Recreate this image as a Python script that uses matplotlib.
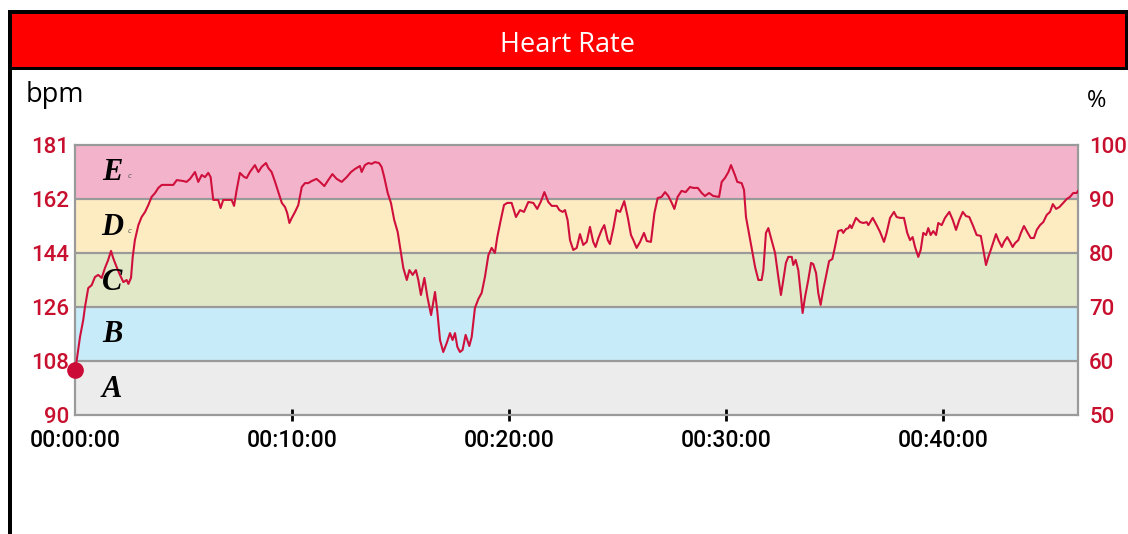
import matplotlib
matplotlib.use('Agg')
import matplotlib.pyplot as plt
from matplotlib.patches import Rectangle

# heart rate trace (time in minutes, bpm)
minutes = [0.00, 0.08, 0.23, 0.38, 0.46, 0.61, 0.77, 0.92, 1.07, 1.23, 1.38, 1.53, 1.66, 1.76, 1.92,
           2.07, 2.23, 2.38, 2.46, 2.58, 2.66, 2.76, 2.92, 3.07, 3.23, 3.38, 3.53, 3.69, 3.84, 4.00,
           4.53, 4.69, 4.99, 5.14, 5.30, 5.53, 5.68, 5.84, 5.99, 6.14, 6.25, 6.37, 6.60, 6.71, 6.83,
           7.22, 7.33, 7.45, 7.60, 7.80, 7.91, 8.06, 8.29, 8.45, 8.60, 8.80, 8.91, 9.06, 9.22, 9.37,
           9.53, 9.68, 9.78, 9.88, 9.99, 10.14, 10.29, 10.45, 10.60, 10.75, 10.91, 11.13, 11.29, 11.49,
           11.67, 11.86, 12.06, 12.29, 12.52, 12.72, 12.90, 13.13, 13.21, 13.36, 13.52, 13.67, 13.82,
           14.01, 14.13, 14.25, 14.41, 14.56, 14.71, 14.87, 14.98, 15.13, 15.29, 15.41, 15.56, 15.71,
           15.82, 15.94, 16.10, 16.24, 16.41, 16.59, 16.70, 16.82, 16.97, 17.13, 17.28, 17.40, 17.51,
           17.62, 17.74, 17.86, 18.00, 18.17, 18.28, 18.43, 18.59, 18.74, 18.89, 19.05, 19.20, 19.35,
           19.46, 19.62, 19.77, 19.92, 20.12, 20.32, 20.51, 20.69, 20.89, 21.12, 21.30, 21.46, 21.63,
           21.81, 21.97, 22.20, 22.32, 22.47, 22.58, 22.70, 22.81, 22.96, 23.12, 23.27, 23.42, 23.58,
           23.73, 23.88, 23.99, 24.12, 24.27, 24.39, 24.55, 24.65, 24.81, 24.96, 25.12, 25.31, 25.47,
           25.62, 25.73, 25.88, 26.04, 26.22, 26.35, 26.54, 26.70, 26.85, 27.03, 27.19, 27.34, 27.50,
           27.62, 27.77, 27.95, 28.14, 28.34, 28.49, 28.70, 28.88, 29.03, 29.22, 29.41, 29.68, 29.80,
           29.95, 30.11, 30.23, 30.41, 30.52, 30.72, 30.83, 30.92, 31.03, 31.18, 31.34, 31.49, 31.64,
           31.72, 31.84, 31.95, 32.10, 32.26, 32.41, 32.53, 32.64, 32.76, 32.87, 33.03, 33.10, 33.21,
           33.33, 33.44, 33.53, 33.64, 33.79, 33.92, 34.02, 34.15, 34.25, 34.36, 34.48, 34.64, 34.75,
           34.90, 35.02, 35.17, 35.33, 35.40, 35.53, 35.64, 35.71, 35.79, 35.99, 36.18, 36.33, 36.48,
           36.56, 36.76, 36.94, 37.10, 37.28, 37.40, 37.56, 37.74, 37.86, 38.02, 38.20, 38.35, 38.48,
           38.60, 38.71, 38.86, 38.97, 39.09, 39.22, 39.32, 39.43, 39.55, 39.68, 39.78, 39.94, 40.09,
           40.29, 40.45, 40.60, 40.75, 40.91, 41.06, 41.21, 41.37, 41.55, 41.74, 41.86, 41.98, 42.09,
           42.20, 42.32, 42.44, 42.55, 42.71, 42.81, 42.96, 43.09, 43.21, 43.32, 43.47, 43.59, 43.73,
           43.88, 44.04, 44.19, 44.32, 44.47, 44.62, 44.78, 44.93, 45.06, 45.21, 45.36, 45.54, 45.70,
           45.85, 46.00, 46.16, 46.22]
bpm = [105.0, 108.3, 116.0, 121.7, 126.0, 132.3, 133.3, 136.0, 136.7, 135.7, 139.0, 141.7, 144.7, 142.3, 139.3,
       136.7, 134.3, 135.0, 133.7, 135.7, 142.7, 148.3, 153.3, 156.0, 157.7, 160.0, 162.7, 164.0, 165.7, 166.7,
       166.7, 168.3, 168.0, 167.7, 168.7, 171.0, 167.7, 170.0, 169.3, 170.7, 169.3, 161.7, 161.7, 159.0, 161.7,
       161.7, 159.7, 165.0, 170.7, 169.3, 169.0, 171.0, 173.3, 171.0, 172.7, 174.0, 172.3, 171.0, 167.7, 164.3,
       160.7, 159.3, 157.3, 154.0, 155.7, 157.7, 160.0, 166.0, 167.3, 167.3, 168.0, 168.7, 167.7, 166.3,
       168.3, 170.3, 168.7, 167.7, 169.3, 171.0, 172.0, 173.0, 171.0, 173.3, 174.0, 173.7, 174.3,
       174.0, 172.7, 169.3, 164.0, 160.7, 155.0, 151.0, 146.0, 139.0, 135.0, 138.3, 136.7, 138.3,
       135.0, 130.0, 135.7, 129.3, 123.3, 131.0, 124.3, 115.0, 111.0, 114.0, 117.3, 115.0, 117.3,
       112.7, 111.0, 111.7, 116.7, 113.0, 116.0, 125.7, 128.7, 130.7, 136.0, 143.3, 145.7, 144.0,
       149.3, 155.0, 160.0, 160.7, 160.7, 156.0, 158.3, 157.7, 161.0, 160.7, 158.7, 161.0, 164.3,
       161.0, 159.7, 159.7, 158.3, 157.7, 158.3, 155.0, 148.3, 145.0, 145.7, 150.3, 146.7, 147.7,
       152.7, 147.7, 146.0, 149.0, 151.7, 153.3, 148.3, 147.0, 152.3, 158.3, 157.7, 161.3, 156.0,
       150.0, 148.3, 145.7, 147.7, 150.7, 148.0, 147.7, 157.3, 162.3, 162.7, 164.3, 163.0, 160.7,
       158.7, 162.7, 164.7, 164.3, 166.0, 165.7, 165.7, 164.0, 163.0, 164.0, 163.0, 162.7, 167.7,
       169.0, 171.0, 173.3, 170.0, 167.7, 167.3, 165.0, 156.0, 151.7, 145.7, 139.3, 135.0, 135.0,
       138.3, 150.7, 152.3, 148.3, 144.0, 136.0, 130.0, 135.0, 140.7, 142.7, 142.7, 140.0, 141.7,
       138.3, 130.7, 124.0, 129.3, 135.0, 140.7, 140.3, 137.3, 130.7, 126.7, 131.7, 137.3, 141.3,
       142.0, 146.0, 151.3, 151.7, 150.7, 152.0, 152.3, 153.3, 152.3, 155.7, 154.3, 154.0, 154.3,
       153.3, 155.7, 153.3, 151.0, 147.7, 150.7, 155.7, 157.7, 156.0, 155.7, 155.7, 150.7, 148.3,
       149.3, 146.0, 142.7, 145.0, 150.7, 150.0, 152.3, 150.0, 151.3, 150.0, 154.0, 153.3, 155.7,
       157.7, 155.0, 151.7, 155.0, 157.7, 156.3, 156.0, 153.3, 150.0, 149.7, 145.0, 140.0, 142.7,
       145.0, 147.7, 150.3, 148.3, 146.0, 147.7, 149.3, 147.7, 146.0, 147.3, 148.3, 150.7, 153.0,
       151.0, 149.0, 149.0, 151.7, 153.3, 154.3, 156.7, 157.7, 160.3, 158.7, 159.3, 160.7, 162.0,
       162.7, 164.0, 164.0, 164.7]

zone_edges = [90, 108, 126, 144, 162, 180]
zone_tick_labels = ['90', '108', '126', '144', '162', '181']
pct_ticks = [50, 60, 70, 80, 90, 100]
zone_names = ['A', 'B', 'C', 'D', 'E']
zone_colors = ['#ebeceb', '#c7ebf8', '#e1e8c8', '#fdebc2', '#f3b4cb']
time_ticks = [0, 10, 20, 30, 40]
time_labels = ['00:00:00', '00:10:00', '00:20:00', '00:30:00', '00:40:00']

red_txt = '#c8102e'
line_col = '#d0103c'

W, H = 1128, 534
fig = plt.figure(figsize=(W / 100, H / 100), dpi=100)
fig.patch.set_facecolor('white')

# header bar and frame
fig.add_artist(Rectangle((8 / W, 1 - 70 / H), 1 - 8 / W, 60 / H, transform=fig.transFigure,
                         facecolor='black', edgecolor='none'))
fig.add_artist(Rectangle((12 / W, 1 - 67 / H), 1 - 15 / W, 53 / H, transform=fig.transFigure,
                         facecolor='#ff0000', edgecolor='none'))
fig.add_artist(Rectangle((8 / W, 0), 4 / W, 1 - 10 / H, transform=fig.transFigure,
                         facecolor='black', edgecolor='none'))
fig.text(568 / W, 1 - 45 / H, 'Heart Rate', color='white', fontsize=19.5, family='Open Sans',
         ha='center', va='center')
fig.text(26 / W, 1 - 95 / H, 'bpm', color='black', fontsize=19.5, family='Open Sans',
         ha='left', va='center')
fig.text(1097 / W, 1 - 101 / H, '%', color='black', fontsize=17, family='Open Sans',
         ha='center', va='center')

ax = fig.add_axes([75 / W, 1 - 415 / H, 1003 / W, 270 / H])
ax.set_xlim(0, 46.22)
ax.set_ylim(zone_edges[0], zone_edges[-1])

for i in range(len(zone_names)):
    ax.axhspan(zone_edges[i], zone_edges[i + 1], color=zone_colors[i], lw=0, zorder=0)
for e in zone_edges[1:-1]:
    ax.axhline(e, color='#9a9a9a', lw=1.6, zorder=1)

ax.plot(minutes, bpm, color=line_col, lw=1.5, zorder=3)
ax.plot(minutes[0], bpm[0], 'o', color='#cc0a36', ms=11, zorder=4, clip_on=False)

zone_y = [0.096, 0.30, 0.489, 0.696, 0.90]
for name, yy in zip(zone_names, zone_y):
    ax.text(0.037, yy, name, transform=ax.transAxes, fontsize=22, family='Liberation Serif',
            fontweight='bold', style='italic', ha='center', va='center', zorder=5)
ax.text(0.054, 0.886, 'c', transform=ax.transAxes, fontsize=5, color='#555555', style='italic',
        ha='center', va='center')
ax.text(0.054, 0.683, 'c', transform=ax.transAxes, fontsize=5, color='#555555', style='italic',
        ha='center', va='center')

for s in ax.spines.values():
    s.set_color('#9a9a9a')
    s.set_linewidth(1.6)

ax.set_yticks(zone_edges)
ax.set_yticklabels(zone_tick_labels)
ax.tick_params(axis='y', length=0, pad=4, labelcolor=red_txt, labelsize=16)
for lab in ax.get_yticklabels():
    lab.set_family('Roboto')
    lab.set_fontweight('medium')

ax.set_xticks(time_ticks)
ax.set_xticklabels(time_labels)
ax.tick_params(axis='x', direction='inout', length=8, width=2, color='black', pad=6, labelsize=16.5)
for lab in ax.get_xticklabels():
    lab.set_family('Roboto')
    lab.set_fontweight('medium')
ax.xaxis.get_major_ticks()[0].tick1line.set_visible(False)

ax2 = ax.twinx()
ax2.set_ylim(pct_ticks[0], pct_ticks[-1])
ax2.set_yticks(pct_ticks)
ax2.tick_params(axis='y', length=0, pad=8, labelcolor=red_txt, labelsize=16)
for lab in ax2.get_yticklabels():
    lab.set_family('Roboto')
    lab.set_fontweight('medium')
for s in ax2.spines.values():
    s.set_visible(False)

fig.savefig('out.png', dpi=100)
